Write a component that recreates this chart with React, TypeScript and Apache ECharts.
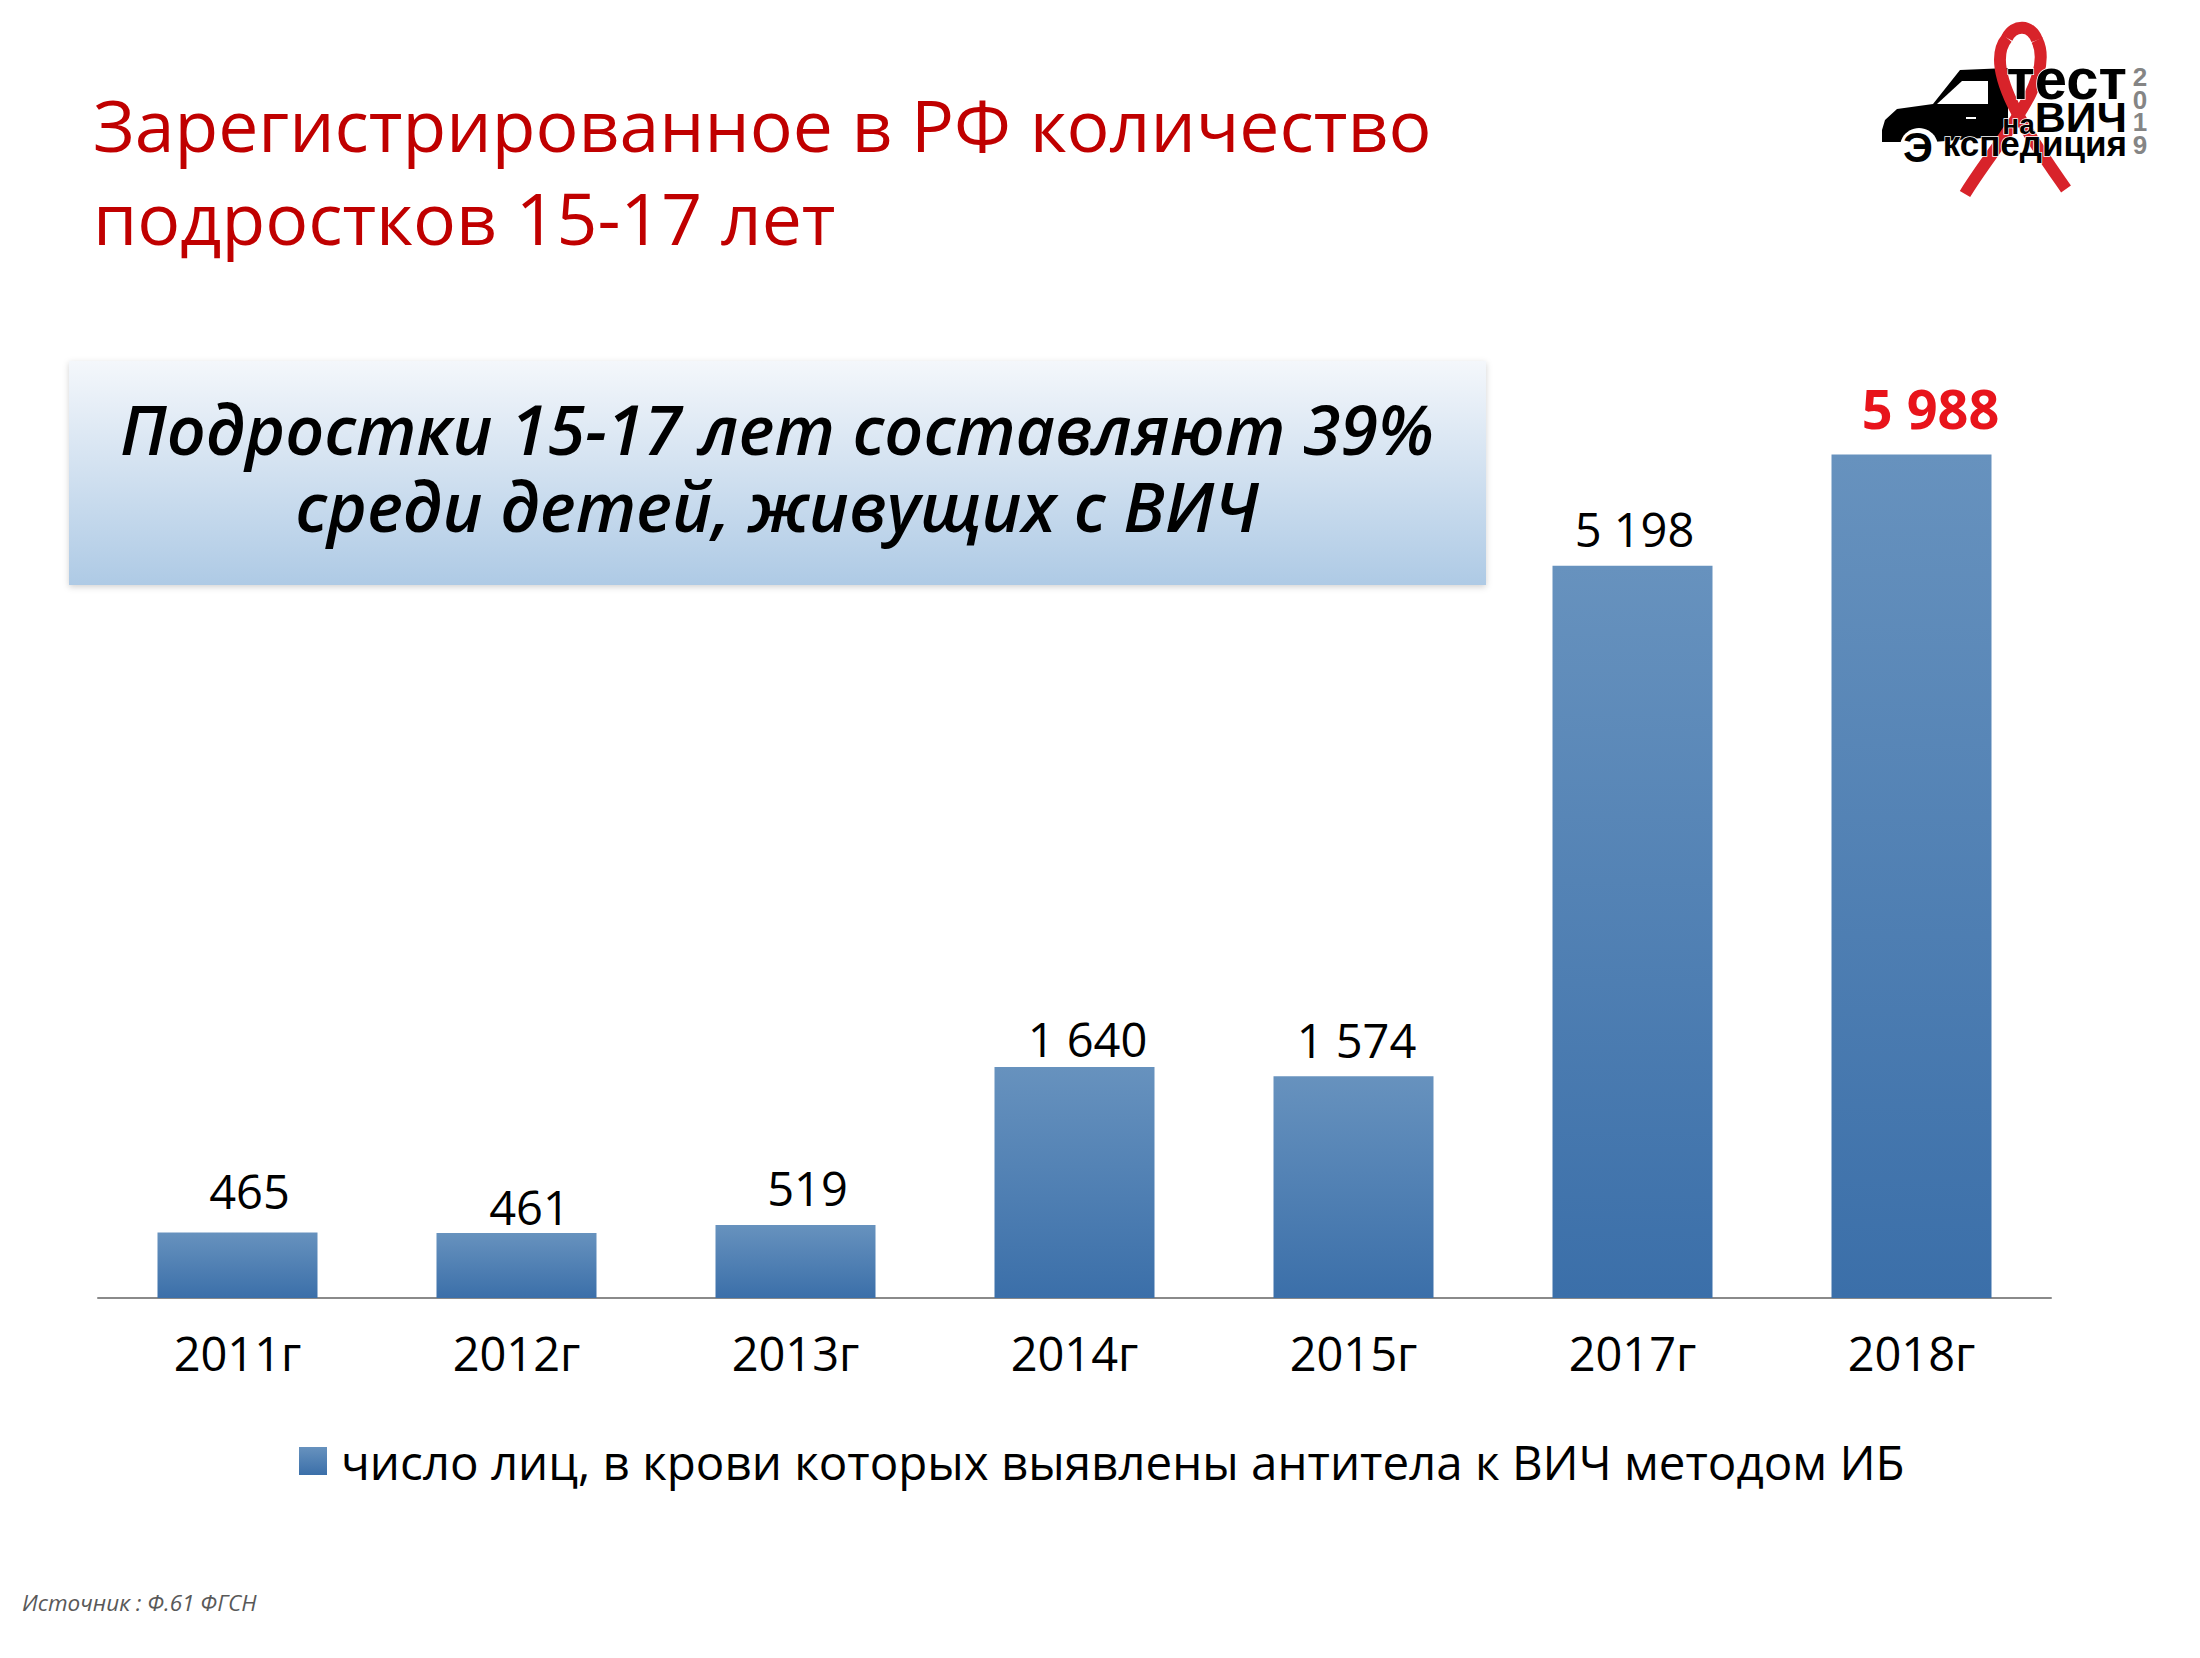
import React, { useEffect, useRef } from "react";
import * as echarts from "echarts";

const categories = ["2011г", "2012г", "2013г", "2014г", "2015г", "2017г", "2018г"];
const values = [465, 461, 519, 1640, 1574, 5198, 5988];
const seriesName = "число лиц, в крови которых выявлены антитела к ВИЧ методом ИБ";
const titleLines = ["Зарегистрированное в РФ количество", "подростков 15-17 лет"];
const calloutLines = ["Подростки 15-17 лет составляют 39%", "среди детей, живущих с ВИЧ"];
const sourceText = "Источник : Ф.61 ФГСН";
const logoYear = ["2", "0", "1", "9"];
const highlightIndex = 6;

// label placement relative to each bar (style, px)
const labelDistance = [18, 3, 13, 4, 13, 13, 20];
const labelShiftX = [12, 13, 12, 13, 3, 2, 19];

const FONT = "'Open Sans', 'Noto Sans', sans-serif";
const LOGO_FONT = "'Liberation Sans', Arial, sans-serif";

function fmt(v: number): string {
  if (v >= 1000) {
    return `${Math.floor(v / 1000)} ${String(v % 1000).padStart(3, "0")}`;
  }
  return String(v);
}

function txt(x: number, y: number, text: string, font: string, fill: string, align = "left", extra: any = {}) {
  return {
    type: "text",
    x,
    y,
    silent: true,
    style: {
      text,
      font,
      fill,
      align,
      textAlign: align,
      verticalAlign: "middle",
      textVerticalAlign: "middle",
      ...extra,
    },
  };
}

export default function App() {
  const ref = useRef<HTMLDivElement>(null);
  useEffect(() => {
    if (!ref.current) return;
    const chart = echarts.init(ref.current, null, { renderer: "svg" });
    const barGradient = new echarts.graphic.LinearGradient(0, 0, 0, 1, [
      { offset: 0, color: "#6792be" },
      { offset: 1, color: "#3b6fa9" },
    ]);
    const red = "#d8232a";
    const ribbon = (shape: any) => ({
      type: "bezierCurve",
      silent: true,
      shape,
      style: { stroke: red, lineWidth: 12, fill: null, lineCap: "butt" },
    });
    const logoTok = (size: number, lh: number) => ({
      font: `bold ${size}px ${LOGO_FONT}`,
      fill: "#000",
      lineHeight: lh,
      verticalAlign: "bottom",
      stroke: "#fff",
      lineWidth: 1.5,
    });
    const option: any = {
      animation: false,
      backgroundColor: "#ffffff",
      grid: { left: 98, right: 149, top: 312, bottom: 360, containLabel: false },
      xAxis: {
        type: "category",
        data: categories,
        axisLine: { show: true, lineStyle: { color: "#8a8a8a", width: 2 } },
        axisTick: { show: false },
        axisLabel: { margin: 31, color: "#000", fontFamily: FONT, fontSize: 47 },
      },
      yAxis: { type: "value", min: 0, max: 7000, show: false, splitLine: { show: false } },
      legend: {
        show: true,
        left: 294,
        top: 1432,
        icon: "rect",
        itemWidth: 28,
        itemHeight: 28,
        data: [seriesName],
        textStyle: { fontFamily: FONT, fontSize: 47.5, color: "#000", padding: [0, 0, 0, 9] },
      },
      series: [
        {
          type: "bar",
          name: seriesName,
          barWidth: 160,
          itemStyle: { color: barGradient },
          label: {
            show: true,
            position: "top",
            fontFamily: FONT,
            fontSize: 47,
            color: "#000",
            formatter: (p: any) => fmt(p.value),
          },
          data: values.map((v, i) => ({
            value: v,
            label:
              i === highlightIndex
                ? {
                    distance: labelDistance[i],
                    offset: [labelShiftX[i], 0],
                    color: "#e8141b",
                    fontWeight: "bold",
                    fontSize: 54,
                  }
                : { distance: labelDistance[i], offset: [labelShiftX[i], 0] },
          })),
        },
      ],
      graphic: [
        // title
        txt(93, 124, titleLines[0], `71.5px ${FONT}`, "#c00000"),
        txt(93, 217, titleLines[1], `71.5px ${FONT}`, "#c00000"),
        // callout box
        {
          type: "rect",
          silent: true,
          shape: { x: 69, y: 361, width: 1417, height: 224 },
          style: {
            fill: new echarts.graphic.LinearGradient(0, 0, 0, 1, [
              { offset: 0, color: "#f4f7fb" },
              { offset: 1, color: "#aecae5" },
            ]),
            shadowBlur: 6,
            shadowColor: "rgba(0,0,0,0.18)",
            shadowOffsetY: 2,
          },
        },
        txt(777, 467, calloutLines.join("\n"), `italic 600 68px ${FONT}`, "#000", "center", {
          lineHeight: 77,
        }),
        // source
        txt(22, 1602, sourceText, `italic 22.5px ${FONT}`, "#595959"),
        // logo: car
        {
          type: "polygon",
          silent: true,
          shape: {
            points: [
              [1882, 142], [1882, 130], [1885, 120], [1897, 109], [1933, 104], [1960, 70],
              [2008, 68], [2008, 136], [1933, 142],
            ],
          },
          style: { fill: "#000" },
        },
        {
          type: "polygon",
          silent: true,
          shape: { points: [[1937, 104], [1962, 81], [1988, 81], [1988, 104]] },
          style: { fill: "#fff" },
        },
        { type: "rect", silent: true, shape: { x: 1966, y: 117, width: 10, height: 2 }, style: { fill: "#fff" } },
        { type: "circle", silent: true, shape: { cx: 1919, cy: 147, r: 19 }, style: { fill: "#fff" } },
        // ribbon
        ribbon({ x1: 1965, y1: 194, cpx1: 1993, cpy1: 147, cpx2: 2057, cpy2: 80, x2: 2037, y2: 40 }),
        ribbon({ x1: 2066, y1: 189, cpx1: 2037, cpy1: 147, cpx2: 1980, cpy2: 70, x2: 2007, y2: 38 }),
        ribbon({ x1: 2007, y1: 38, cpx1: 2014, cpy1: 24, cpx2: 2031, cpy2: 24, x2: 2037, y2: 40 }),
        // logo texts
        {
          type: "text",
          x: 2127,
          y: 73,
          silent: true,
          style: {
            text: "{t|тест}\n{n|на}{v|ВИЧ}\n{k|кспедиция}",
            align: "right",
            textAlign: "right",
            verticalAlign: "top",
            textVerticalAlign: "top",
            rich: {
              t: logoTok(58, 34),
              n: logoTok(28, 31),
              v: logoTok(43, 31),
              k: logoTok(35, 23),
            },
          },
        },
        txt(1903, 147, "Э", `bold 42px ${LOGO_FONT}`, "#000", "left", { stroke: "#fff", lineWidth: 2 }),
        txt(2140, 111, logoYear.join("\n"), `bold 26px ${LOGO_FONT}`, "#858585", "center", {
          lineHeight: 22.5,
        }),
      ],
    };
    chart.setOption(option);
    return () => chart.dispose();
  }, []);
  return (
    <div
      ref={ref}
      style={{ position: "fixed", left: 0, top: 0, width: 2200, height: 1658, background: "#fff" }}
    />
  );
}
